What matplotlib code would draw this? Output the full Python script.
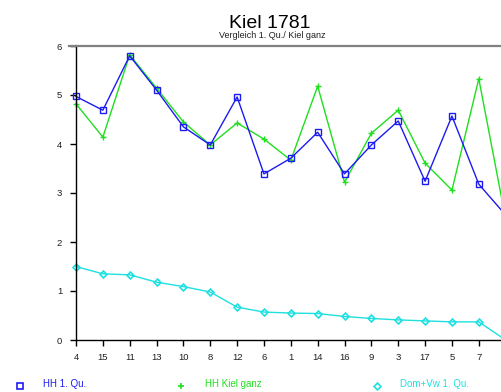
import matplotlib
matplotlib.use("Agg")
import matplotlib.pyplot as plt
from matplotlib.lines import Line2D

plt.rcParams['font.family'] = ['Liberation Sans', 'DejaVu Sans']

# categories (the last one lies just outside the picture)
kat = ["4", "15", "11", "13", "10", "8", "12", "6", "1", "14", "16", "9",
       "3", "17", "5", "7", "2"]

hh_1qu = [4.97, 4.69, 5.80, 5.10, 4.35, 3.98, 4.96, 3.39, 3.71, 4.24, 3.39,
          3.98, 4.47, 3.24, 4.57, 3.18, 2.55]
hh_kiel = [4.82, 4.14, 5.82, 5.14, 4.45, 3.98, 4.43, 4.10, 3.67, 5.18, 3.22,
           4.22, 4.69, 3.61, 3.06, 5.33, 2.47]
dom_vw = [1.50, 1.35, 1.33, 1.18, 1.09, 0.98, 0.67, 0.57, 0.55, 0.54, 0.48,
          0.44, 0.41, 0.39, 0.37, 0.37, 0.0]

c_blue = '#1c1cf0'
c_green = '#1ee01e'
c_cyan = '#1ee0e0'

fig = plt.figure(figsize=(5.02, 3.92), dpi=100)
# axes deliberately runs past the right edge of the figure
ax = fig.add_axes([76 / 502, 52 / 392, 456.5 / 502, 294 / 392])

x = list(range(len(kat)))
ax.plot(x, dom_vw, color=c_cyan, lw=1, marker='D', ms=3.5, mfc='none',
        mew=1.2, clip_on=False)
ax.plot(x, hh_kiel, color=c_green, lw=1, marker='+', ms=5, mew=1,
        clip_on=False)
ax.plot(x, hh_1qu, color=c_blue, lw=1, marker='s', ms=5, mfc='none',
        mew=1, clip_on=False)

ax.set_xlim(0, 17)
ax.set_ylim(0, 6)
# the last category's tick falls outside the picture, so leave it off
ax.set_xticks(x[:-1])
ax.set_xticklabels(kat[:-1])
ax.set_yticks(range(7))

ax.spines['right'].set_visible(False)
ax.spines['top'].set_color('#808080')
ax.spines['top'].set_linewidth(1.6)
ax.spines['left'].set_linewidth(1)
ax.spines['bottom'].set_linewidth(1)
ax.tick_params(direction='out', length=4, width=1, labelsize=6.8,
               colors='black', labelcolor='#202020')
ax.tick_params(axis='y', pad=6)
ax.tick_params(axis='x', pad=5)
ax.plot([-0.25, 0], [6, 6], color='#808080', lw=1.6, clip_on=False)

fig.text(0.538, 0.928, "Kiel 1781", ha='center', va='baseline', fontsize=14)
fig.text(0.542, 0.902, "Vergleich 1. Qu./ Kiel ganz", ha='center',
         va='baseline', fontsize=6.5, color='#202020')

# legend row at the bottom
leg = [(20, 43, 's', 4.5, c_blue, "HH 1. Qu."),
       (181, 205, '+', 5, c_green, "HH Kiel ganz"),
       (377, 400, 'D', 3.5, c_cyan, "Dom+Vw 1. Qu.")]
for mx, tx, m, ms, col, lab in leg:
    fig.add_artist(Line2D([mx / 502], [1 - 386 / 392], marker=m, ms=ms,
                          mfc='none', mec=col, mew=1.2, ls='none',
                          transform=fig.transFigure))
    fig.text(tx / 502, 1 - 384 / 392, lab, color=col, fontsize=7,
             va='center', ha='left')

fig.savefig('out.png', dpi=100)
